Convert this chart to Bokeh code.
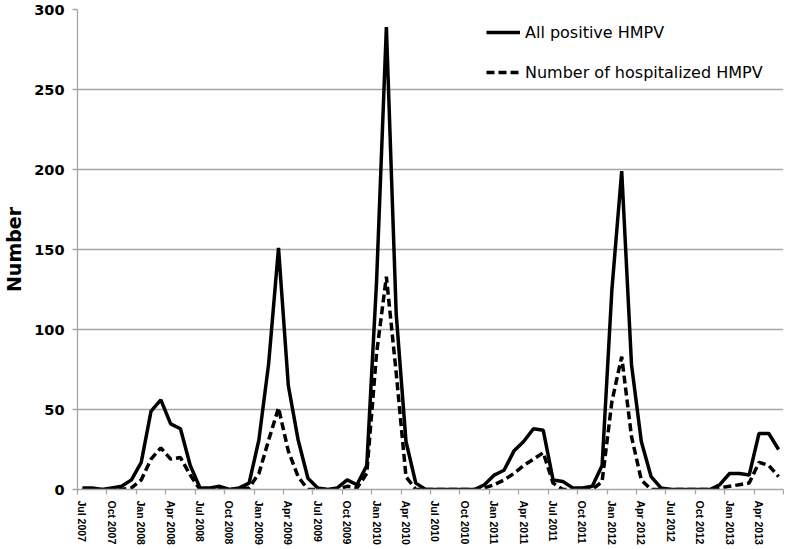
from bokeh.plotting import figure
from bokeh.models import Range1d, FixedTicker, Legend, LegendItem, ColumnDataSource
from bokeh.embed import file_html
from bokeh.resources import INLINE

# Monthly counts, Jul 2007 .. Jun 2013 (72 months)
all_positive = [1, 1, 0, 1, 2, 6, 17, 49, 56, 41, 38, 15,
                1, 1, 2, 0, 1, 4, 31, 79, 151, 65, 31, 7,
                1, 0, 1, 6, 3, 15, 130, 289, 110, 30, 4, 0,
                0, 0, 0, 0, 0, 3, 9, 12, 24, 30, 38, 37,
                6, 5, 1, 1, 2, 15, 125, 199, 78, 30, 8, 1,
                0, 0, 0, 0, 0, 3, 10, 10, 9, 35, 35, 25]
hospitalized = [0, 0, 0, 0, 0, 1, 6, 19, 26, 19, 20, 9,
                0, 0, 0, 0, 0, 1, 10, 31, 51, 24, 8, 0,
                0, 0, 0, 2, 1, 10, 85, 133, 73, 8, 0, 0,
                0, 0, 0, 0, 0, 1, 3, 6, 10, 15, 19, 23,
                4, 0, 0, 0, 0, 5, 55, 83, 33, 6, 0, 0,
                0, 0, 0, 0, 0, 1, 2, 3, 4, 17, 15, 8]
tick_labels = ["Jul 2007", "Oct 2007", "Jan 2008", "Apr 2008", "Jul 2008", "Oct 2008",
               "Jan 2009", "Apr 2009", "Jul 2009", "Oct 2009", "Jan 2010", "Apr 2010",
               "Jul 2010", "Oct 2010", "Jan 2011", "Apr 2011", "Jul 2011", "Oct 2011",
               "Jan 2012", "Apr 2012", "Jul 2012", "Oct 2012", "Jan 2013", "Apr 2013"]
y_ticks = [0, 50, 100, 150, 200, 250, 300]

n = len(all_positive)
months = list(range(n))
src = ColumnDataSource(dict(x=months, a=all_positive, h=hospitalized))

H = 547
p = figure(width=784, height=H, output_backend="svg", toolbar_location=None,
           x_range=Range1d(-0.5, n - 0.5), y_range=Range1d(0, 300),
           min_border_left=71, min_border_right=1, min_border_top=9,
           min_border_bottom=0)
p.outline_line_color = None
p.background_fill_color = "white"

GRID = "#a6a6a6"
p.xgrid.grid_line_color = None
p.ygrid.grid_line_color = GRID
p.ygrid.grid_line_width = 1.3

r1 = p.line("x", "a", source=src, line_color="black", line_width=3.5)
r2 = p.line("x", "h", source=src, line_color="black", line_width=3.5, line_dash="8 4")

major = [i * 3 for i in range(len(tick_labels))]
minor = [i * 3 - 0.5 for i in range(len(tick_labels) + 1)]
xax = p.xaxis[0]
xax.ticker = FixedTicker(ticks=major, minor_ticks=minor)
xax.major_label_overrides = {t: lab for t, lab in zip(major, tick_labels)}
xax.major_label_orientation = "vertical"
xax.major_label_text_font = "Liberation Sans"
xax.major_label_text_font_style = "bold"
xax.major_label_text_font_size = "10.5px"
xax.major_label_text_color = "black"
xax.major_label_standoff = 6
xax.major_tick_out = 0
xax.major_tick_in = 0
xax.minor_tick_out = 5
xax.minor_tick_in = 0
xax.minor_tick_line_color = GRID
xax.minor_tick_line_width = 1.3
xax.axis_line_color = GRID
xax.axis_line_width = 1.3

yax = p.yaxis[0]
yax.ticker = FixedTicker(ticks=y_ticks)
yax.axis_label = "Number"
yax.axis_label_text_font = "DejaVu Sans"
yax.axis_label_text_font_style = "bold"
yax.axis_label_text_font_size = "19px"
yax.axis_label_text_color = "black"
yax.axis_label_standoff = 6
yax.major_label_text_font = "DejaVu Sans"
yax.major_label_text_font_style = "bold"
yax.major_label_text_font_size = "14.5px"
yax.major_label_text_color = "black"
yax.major_label_standoff = 8
yax.major_tick_out = 5
yax.major_tick_in = 0
yax.minor_tick_line_color = None
yax.major_tick_line_color = GRID
yax.major_tick_line_width = 1.3
yax.axis_line_color = GRID
yax.axis_line_width = 1.3

legend = Legend(items=[LegendItem(label="All positive HMPV", renderers=[r1]),
                       LegendItem(label="Number of hospitalized HMPV", renderers=[r2])],
                location=(409, 407))
legend.border_line_color = None
legend.background_fill_alpha = 0
legend.padding = 0
legend.margin = 0
legend.spacing = 20
legend.glyph_width = 34
legend.glyph_height = 20
legend.label_height = 20
legend.label_standoff = 5
legend.label_text_font = "DejaVu Sans"
legend.label_text_font_size = "16px"
legend.label_text_color = "black"
p.add_layout(legend)

open("out.html", "w").write(file_html(p, INLINE))
